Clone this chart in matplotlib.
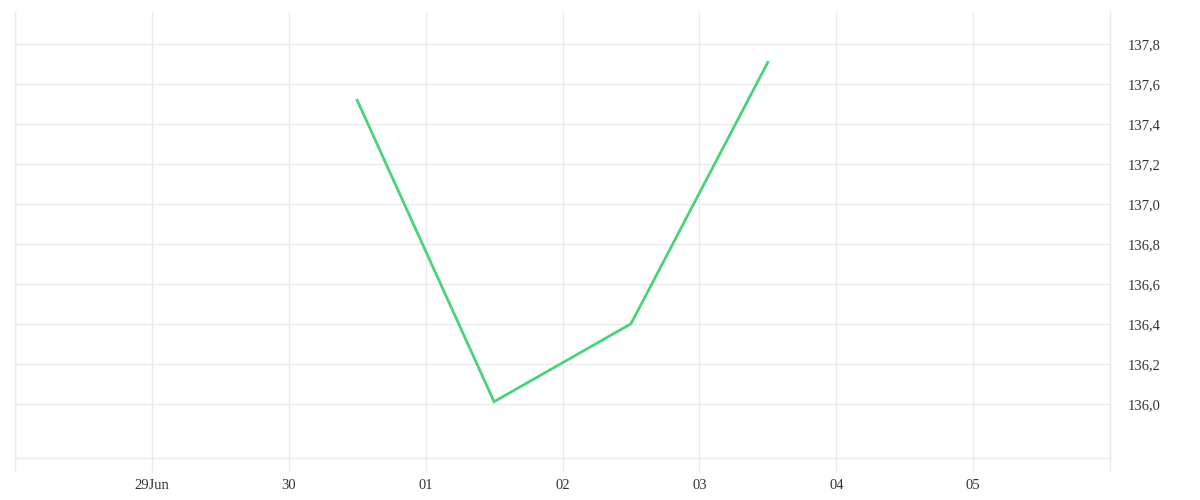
#!/usr/bin/env python3
"""Single price series over a week of daily buckets, right-hand value axis."""
import datetime as dt
import matplotlib
matplotlib.use("Agg")
import matplotlib.pyplot as plt
import matplotlib.dates as mdates
from matplotlib.ticker import FuncFormatter

# data
dates = ["2023-06-30 12:00", "2023-07-01 12:00", "2023-07-02 12:00", "2023-07-03 12:00"]
values = [137.52, 136.01, 136.40, 137.71]
y_ticks = [136.0, 136.2, 136.4, 136.6, 136.8, 137.0, 137.2, 137.4, 137.6, 137.8]
x_start, x_end = "2023-06-28", "2023-07-06"

GRID = "#ebebeb"
LINE = "#4cd27b"
TEXT = "#333333"

plt.rcParams["font.family"] = ["Liberation Serif", "DejaVu Serif"]

x = [dt.datetime.strptime(d, "%Y-%m-%d %H:%M") for d in dates]

fig = plt.figure(figsize=(12, 5), dpi=100)
ax = fig.add_axes([0.0125, 0.084, 0.9125, 0.892])
ax.plot(x, values, color=LINE, lw=2.0, solid_joinstyle="miter", zorder=3)

ax.set_xlim(dt.datetime.fromisoformat(x_start), dt.datetime.fromisoformat(x_end))
ax.set_ylim(135.728, 137.962)
first, last = ax.get_xlim()


def day_label(v, pos):
    # the two edge days carry a grid line but no label
    if v <= first + 0.01 or v >= last - 0.01:
        return ""
    d = mdates.num2date(v)
    return f"{d.day:02d}Jun" if d.month == 6 and d.day == 29 else f"{d.day:02d}"


ax.xaxis.set_major_locator(mdates.DayLocator())
ax.xaxis.set_major_formatter(FuncFormatter(day_label))
ax.set_yticks(y_ticks)
ax.yaxis.set_major_formatter(FuncFormatter(lambda v, p: f"{v:.1f}".replace(".", ",")))
ax.yaxis.tick_right()

ax.grid(True, color=GRID, lw=1.0)
ax.set_axisbelow(True)
ax.spines["top"].set_visible(False)
for side in ("bottom", "left", "right"):
    ax.spines[side].set_color(GRID)
    ax.spines[side].set_linewidth(1.0)

ax.tick_params(axis="x", length=10, color=GRID, width=1.0, pad=5,
               labelsize=10.5, labelcolor=TEXT)
ax.tick_params(axis="y", length=0, pad=13, labelsize=10.5, labelcolor=TEXT)
for lbl in ax.get_yticklabels():
    lbl.set_va("center_baseline")

fig.savefig("out.png", dpi=100, facecolor="white")
